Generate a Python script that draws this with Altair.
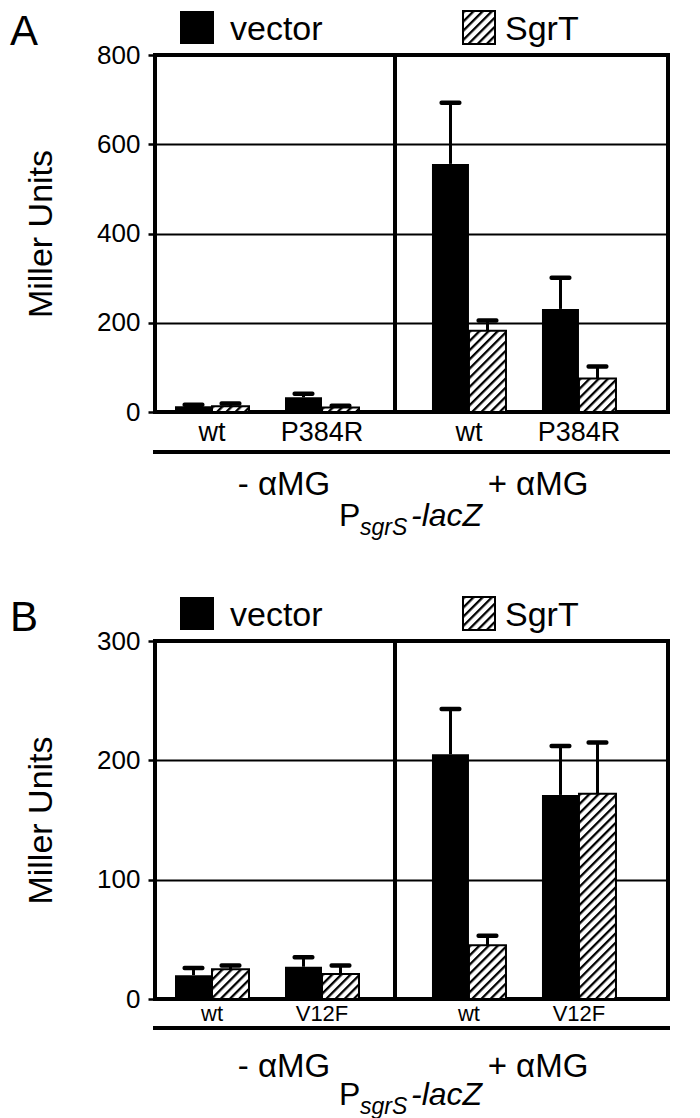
import base64
import altair as alt
import pandas as pd

FONT = "Liberation Sans"
SERIES = ["vector", "SgrT"]
CONDITIONS = ["- αMG", "+ αMG"]
PANEL_LABELS = ["A", "B"]
REPORTER = ["P", "sgrS", "-lacZ"]
Y_TITLE = "Miller Units"

# ---- Panel A ----
A_STRAINS = ["wt", "P384R"]
A_TICKS = [0, 200, 400, 600, 800]
A_MINUS_VECTOR = [13, 33]
A_MINUS_VECTOR_ERR = [3, 8]
A_MINUS_SGRT = [13, 10]
A_MINUS_SGRT_ERR = [6, 4]
A_PLUS_VECTOR = [556, 231]
A_PLUS_VECTOR_ERR = [137, 70]
A_PLUS_SGRT = [182, 75]
A_PLUS_SGRT_ERR = [23, 27]

# ---- Panel B ----
B_STRAINS = ["wt", "V12F"]
B_TICKS = [0, 100, 200, 300]
B_MINUS_VECTOR = [20, 27]
B_MINUS_VECTOR_ERR = [6, 8]
B_MINUS_SGRT = [25, 21]
B_MINUS_SGRT_ERR = [3, 7]
B_PLUS_VECTOR = [205, 171]
B_PLUS_VECTOR_ERR = [38, 41]
B_PLUS_SGRT = [45, 172]
B_PLUS_SGRT_ERR = [8, 43]

HATCH_SVG = (
    "<svg xmlns='http://www.w3.org/2000/svg' width='100%' height='100%'>"
    "<defs><pattern id='h' width='6.5' height='6.5' patternUnits='userSpaceOnUse' "
    "patternTransform='rotate(45)'>"
    "<rect width='6.5' height='6.5' fill='white'/>"
    "<rect x='0' y='0' width='2.3' height='6.5' fill='black'/>"
    "</pattern></defs><rect width='100%' height='100%' fill='url(#h)'/></svg>"
)
HATCH = "data:image/svg+xml;base64," + base64.b64encode(HATCH_SVG.encode()).decode()

W_LEFT = 240
W_RIGHT = 273


def one(v):
    return pd.DataFrame({"t": [v]})


def text_layer(txt, x, y, size, align="left", italic=False):
    return alt.Chart(one(txt)).mark_text(
        align=align, baseline="alphabetic", fontSize=size, font=FONT,
        fontStyle="italic" if italic else "normal", color="black",
    ).encode(x=alt.value(x), y=alt.value(y), text="t:N")


def hrule(x1, x2, y):
    return alt.Chart(one(0)).mark_rule(color="black", strokeWidth=4).encode(
        x=alt.value(x1), x2=alt.value(x2), y=alt.value(y))


def cell(strains, vec, vec_err, sg, sg_err, ticks, side, panel, p):
    H = p["height"]
    rows = []
    for i, s in enumerate(strains):
        rows.append((s, "vector", vec[i], vec_err[i]))
        rows.append((s, "SgrT", sg[i], sg_err[i]))
    df = pd.DataFrame(rows, columns=["strain", "series", "value", "err"])
    ymax = ticks[-1]
    yscale = alt.Scale(domain=[0, ymax], nice=False, zero=True)
    if side == "left":
        width = W_LEFT
        xscale = alt.Scale(domain=strains, paddingInner=0, paddingOuter=0.0909, align=0.1)
        yaxis = alt.Axis(values=ticks, title=Y_TITLE, titleFontSize=34, titleFont=FONT,
                         titleFontWeight="normal", titleColor="black", titlePadding=38,
                         labelFontSize=26, labelFont=FONT, labelColor="black", labelPadding=8,
                         tickSize=7, tickWidth=2.5, tickColor="black", domain=False,
                         grid=True, gridColor="black", gridWidth=2, gridOpacity=1)
    else:
        width = W_RIGHT
        xscale = alt.Scale(domain=strains, paddingInner=0, paddingOuter=0.2409, align=0.358)
        yaxis = alt.Axis(values=ticks, title=None, labels=False, ticks=False, domain=False,
                         grid=True, gridColor="black", gridWidth=2, gridOpacity=1)
    xaxis = alt.Axis(title=None, labelAngle=0, ticks=False, tickSize=0, domain=False,
                     labelFontSize=p["xlab_size"], labelFont=FONT, labelColor="black",
                     labelPadding=p["xlab_pad"], grid=False)

    base = alt.Chart(df).transform_calculate(
        upper="datum.value + datum.err", zero="0"
    ).encode(
        x=alt.X("strain:N", scale=xscale, sort=strains, axis=xaxis),
        xOffset=alt.XOffset("series:N", sort=SERIES,
                            scale=alt.Scale(domain=SERIES, paddingInner=0, paddingOuter=0.4865)),
    )
    yv = alt.Y("value:Q", scale=yscale, axis=yaxis, title=Y_TITLE if side == "left" else None)
    yu = alt.Y("upper:Q", scale=yscale, axis=yaxis, title=Y_TITLE if side == "left" else None)
    bars = base.transform_filter(alt.datum.series == "vector").mark_bar(color="black").encode(y=yv)
    hatch = base.transform_filter(alt.datum.series == "SgrT").mark_image(aspect=False).encode(
        y=yv, y2="zero:Q", url=alt.value(HATCH))
    outline = base.transform_filter(alt.datum.series == "SgrT").mark_bar(
        fillOpacity=0, stroke="black", strokeWidth=2).encode(y=yv)
    stems = base.mark_rule(color="black", strokeWidth=3, opacity=1).encode(y=yv, y2="upper:Q")
    caps = base.mark_tick(color="black", opacity=1, thickness=4.5, size=22,
                          cornerRadius=2).encode(y=yu)

    layers = [bars, hatch, outline, stems, caps]
    if side == "left":
        layers += [
            text_layer(PANEL_LABELS[panel], -145, -10, 42),
            alt.Chart(one(0)).mark_rect(color="black").encode(
                x=alt.value(25), x2=alt.value(59), y=alt.value(-44), y2=alt.value(-11)),
            text_layer(SERIES[0], 75, -15, 34),
            hrule(-2, width, H + p["line_dy"]),
            text_layer(CONDITIONS[0], 129, H + p["cond_dy"], 33, align="center"),
            text_layer(REPORTER[0], 184, H + p["rep_dy"], 32),
            text_layer(REPORTER[1], 205, H + p["rep_dy"] + 9, 23, italic=True),
            text_layer(REPORTER[2], 256, H + p["rep_dy"], 32, italic=True),
        ]
    else:
        layers += [
            alt.Chart(one(0)).mark_image(aspect=False).encode(
                x=alt.value(68), x2=alt.value(100), y=alt.value(-44), y2=alt.value(-11),
                url=alt.value(HATCH)),
            alt.Chart(one(0)).mark_rect(fillOpacity=0, stroke="black", strokeWidth=2).encode(
                x=alt.value(68), x2=alt.value(100), y=alt.value(-44), y2=alt.value(-11)),
            text_layer(SERIES[1], 110, -15, 34),
            hrule(0, width + 2, H + p["line_dy"]),
            text_layer(CONDITIONS[1], 143, H + p["cond_dy"], 33, align="center"),
        ]
    return alt.layer(*layers).properties(width=width, height=H)


PA = {"height": 357, "xlab_size": 27, "xlab_pad": 7, "line_dy": 40, "cond_dy": 83, "rep_dy": 114}
PB = {"height": 358, "xlab_size": 22, "xlab_pad": 4, "line_dy": 29, "cond_dy": 78, "rep_dy": 106}

aL = cell(A_STRAINS, A_MINUS_VECTOR, A_MINUS_VECTOR_ERR, A_MINUS_SGRT, A_MINUS_SGRT_ERR,
          A_TICKS, "left", 0, PA)
aR = cell(A_STRAINS, A_PLUS_VECTOR, A_PLUS_VECTOR_ERR, A_PLUS_SGRT, A_PLUS_SGRT_ERR,
          A_TICKS, "right", 0, PA)
bL = cell(B_STRAINS, B_MINUS_VECTOR, B_MINUS_VECTOR_ERR, B_MINUS_SGRT, B_MINUS_SGRT_ERR,
          B_TICKS, "left", 1, PB)
bR = cell(B_STRAINS, B_PLUS_VECTOR, B_PLUS_VECTOR_ERR, B_PLUS_SGRT, B_PLUS_SGRT_ERR,
          B_TICKS, "right", 1, PB)

chart = alt.concat(
    aL, aR, bL, bR, columns=2,
    spacing={"row": 229, "column": 0}, bounds="flush", align="each",
).properties(
    padding={"left": 0, "top": 0, "right": 4, "bottom": 0}
).configure_view(
    stroke="black", strokeWidth=4
)

chart.save("out.html", embed_options={"renderer": "svg", "actions": False})
